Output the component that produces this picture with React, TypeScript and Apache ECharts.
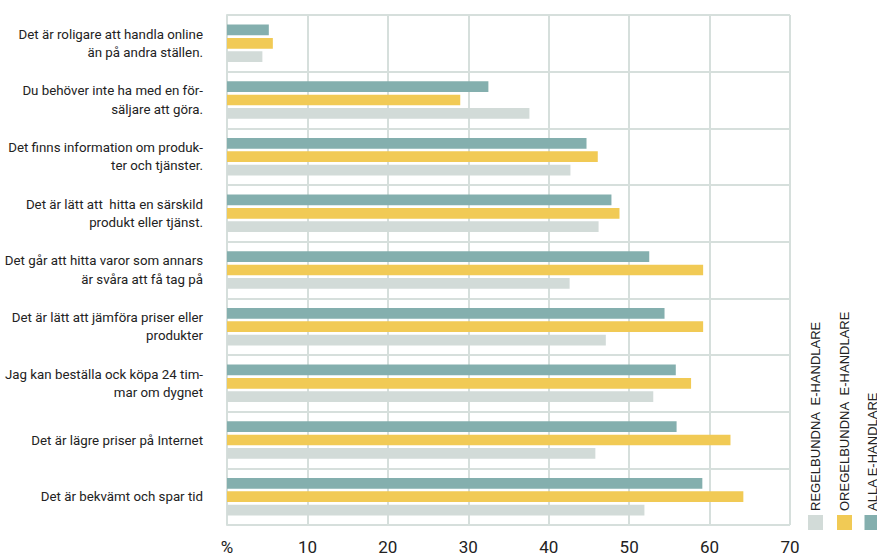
import React, { useEffect, useRef } from "react";
import * as echarts from "echarts";

const categories: string[] = [
  "Det är roligare att handla online\nän på andra ställen.",
  "Du behöver inte ha med en för-\nsäljare att göra.",
  "Det finns information om produk-\nter och tjänster.",
  "Det är lätt att  hitta en särskild\nprodukt eller tjänst.",
  "Det går att hitta varor som annars\när svåra att få tag på",
  "Det är lätt att jämföra priser eller\nprodukter",
  "Jag kan beställa ock köpa 24 tim-\nmar om dygnet",
  "Det är lägre priser på Internet",
  "Det är bekvämt och spar tid",
];

const seriesNames: string[] = [
  "REGELBUNDNA  E-HANDLARE",
  "OREGELBUNDNA  E-HANDLARE",
  "ALLA E-HANDLARE",
];

const regelbundna: number[] = [4.4, 37.6, 42.7, 46.2, 42.6, 47.1, 53.0, 45.8, 51.9];
const oregelbundna: number[] = [5.7, 29.0, 46.1, 48.8, 59.2, 59.2, 57.7, 62.6, 64.2];
const alla: number[] = [5.2, 32.5, 44.7, 47.8, 52.5, 54.4, 55.8, 55.9, 59.1];

const xTicks: string[] = ["%", "10", "20", "30", "40", "50", "60", "70"];

const colors = ["#D2DBD8", "#F1CA55", "#84AFAE"];
const gridColor = "#D6DFDC";
const textColor = "#222222";
const labelFont = "'Roboto', sans-serif";

export default function App() {
  const ref = useRef<HTMLDivElement>(null);

  useEffect(() => {
    if (!ref.current) return;
    const chart = echarts.init(ref.current, null, { renderer: "svg" });
    const values = [regelbundna, oregelbundna, alla];

    const legendX = [815.5, 844.5, 872];
    const graphic: any[] = [];
    seriesNames.forEach((name, i) => {
      graphic.push({
        type: "rect",
        shape: { x: legendX[i] - 7.5, y: 515, width: 15, height: 15 },
        style: { fill: colors[i] },
      });
      graphic.push({
        type: "text",
        x: legendX[i],
        y: 511,
        rotation: Math.PI / 2,
        style: {
          text: name,
          fill: textColor,
          fontSize: 13,
          fontFamily: "'Liberation Sans', sans-serif",
          align: "left",
          verticalAlign: "middle",
        },
      });
    });

    // draw order top-to-bottom within each group: alla, oregelbundna, regelbundna
    const order = [2, 1, 0];

    chart.setOption({
      animation: false,
      grid: {
        left: 227,
        top: 15,
        width: 563,
        height: 510,
        containLabel: false,
        outerBoundsMode: "none",
      },
      xAxis: {
        type: "value",
        min: 0,
        max: 70,
        interval: 10,
        axisLine: { show: false },
        axisTick: { show: false },
        splitLine: { show: true, lineStyle: { color: gridColor, width: 2 } },
        axisLabel: {
          margin: 13,
          fontSize: 17,
          color: textColor,
          fontFamily: labelFont,
          formatter: (v: number) => xTicks[Math.round(v / 10)],
        },
      },
      yAxis: {
        type: "category",
        inverse: true,
        data: categories,
        axisLine: { show: true, lineStyle: { color: gridColor, width: 2 } },
        axisTick: { show: false },
        splitLine: { show: true, lineStyle: { color: gridColor, width: 2 } },
        axisLabel: {
          margin: 24,
          fontSize: 13.3,
          lineHeight: 18.5,
          color: textColor,
          fontFamily: labelFont,
          align: "right",
        },
      },
      series: order.map((i) => ({
        name: seriesNames[i],
        type: "bar",
        data: values[i],
        barWidth: 10.7,
        barGap: "25%",
        itemStyle: { color: colors[i] },
        silent: true,
      })),
      graphic,
    });

    return () => chart.dispose();
  }, []);

  return (
    <div
      ref={ref}
      style={{ position: "fixed", left: 0, top: 0, width: 877, height: 555, background: "#fff" }}
    />
  );
}
